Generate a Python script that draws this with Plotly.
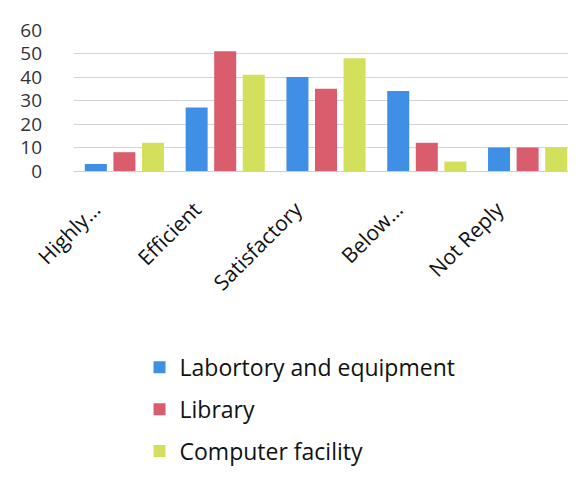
import plotly.graph_objects as go

categories = ["Highly…", "Efficient", "Satisfactory", "Below…", "Not Reply"]
lab = [3, 27, 40, 34, 10]
library = [8, 51, 35, 12, 10]
computer = [12, 41, 48, 4, 10]

series = [
    ("Labortory and equipment", lab, "#3f8fe6"),
    ("Library", library, "#da5d6e"),
    ("Computer facility", computer, "#d3e05c"),
]

fig = go.Figure()
for i, (name, vals, col) in enumerate(series):
    fig.add_trace(go.Bar(x=categories, y=vals, name=name, marker_color=col,
                         marker_line_width=0, legendgroup=str(i)))

fig.update_layout(
    width=576, height=481,
    margin=dict(l=66, r=6, t=22, b=318),
    paper_bgcolor="white", plot_bgcolor="white",
    font=dict(family="Open Sans", color="#222"),
    bargap=0.15, bargroupgap=0.23,
    showlegend=True,
    legend=dict(x=0.13, y=-1.24, xanchor="left", yanchor="top",
                traceorder="grouped", tracegroupgap=9,
                font=dict(size=23, color="#111"), itemwidth=30),
)
fig.update_xaxes(showline=True, linecolor="#cfcfcf", linewidth=1,
                 tickangle=-45, tickfont=dict(size=21, color="#111"), ticks="",
                 ticklabelstandoff=17, ticklabelshift=-30)
fig.update_yaxes(range=[0, 60], dtick=10, showgrid=True, gridcolor="#d4d4d4",
                 zeroline=False, tickfont=dict(size=19, color="#333"),
                 ticklabelstandoff=31)

fig.write_html("out.html")
